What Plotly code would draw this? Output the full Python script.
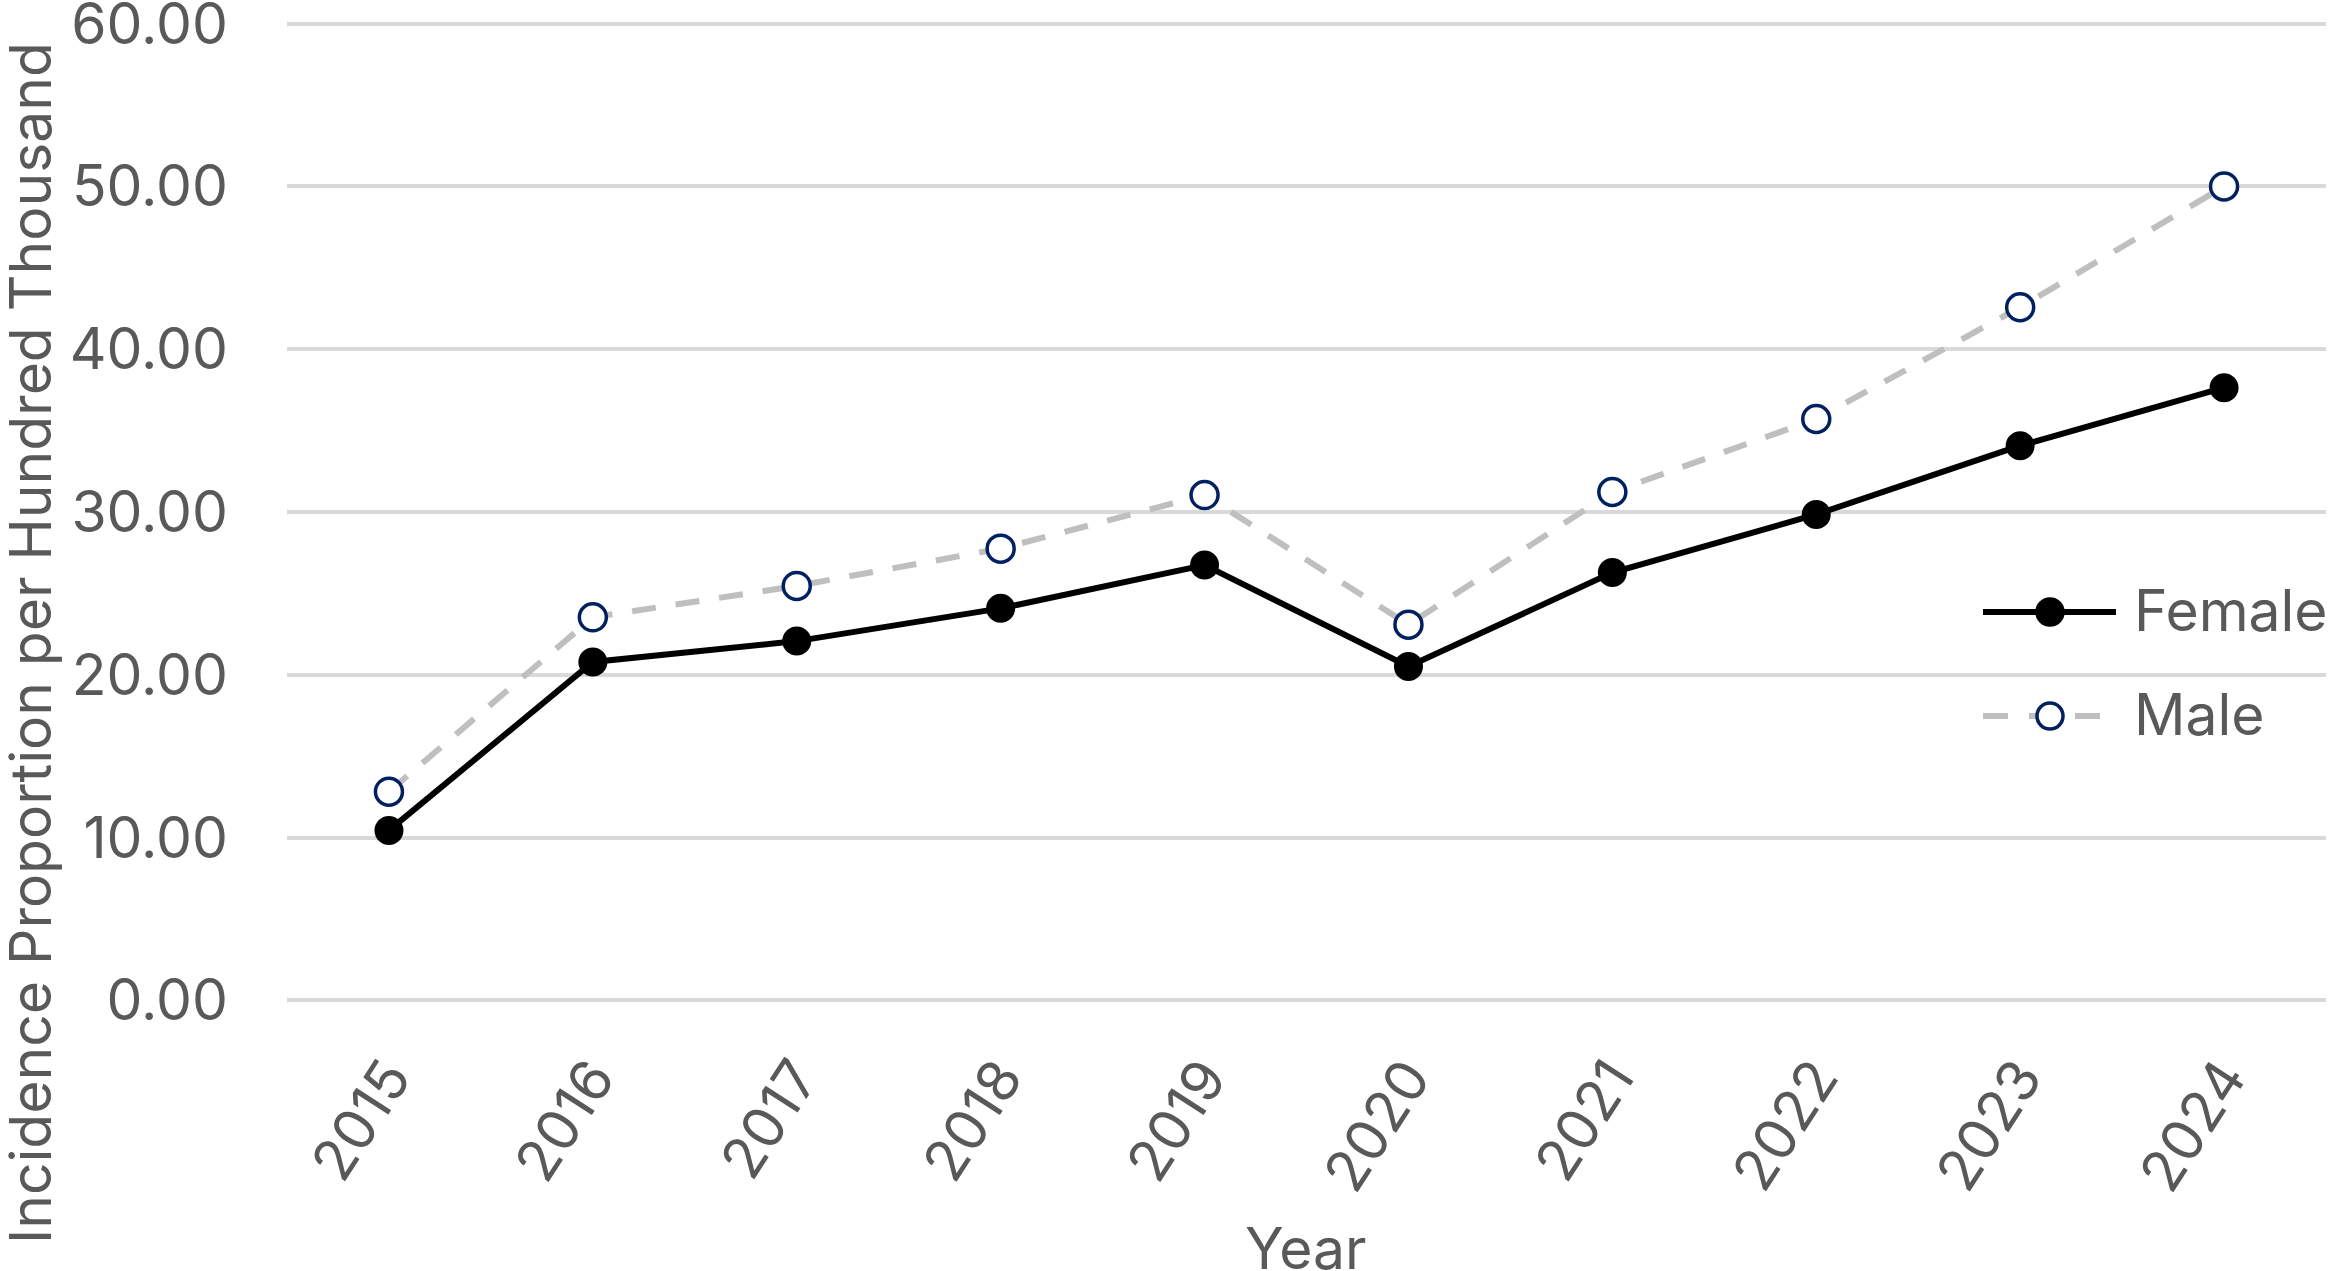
import plotly.graph_objects as go

years = ["2015", "2016", "2017", "2018", "2019", "2020", "2021", "2022", "2023", "2024"]
female = [10.44, 20.79, 22.07, 24.08, 26.74, 20.51, 26.28, 29.85, 34.07, 37.64]
male = [12.82, 23.53, 25.46, 27.75, 31.04, 23.08, 31.23, 35.71, 42.58, 50.00]
y_ticks = [0, 10, 20, 30, 40, 50, 60]
y_tick_labels = ["0.00", "10.00", "20.00", "30.00", "40.00", "50.00", "60.00"]
series_names = ["Female", "Male"]

FONT = "Inter"
TEXT = "#595959"
FS = 57

W, H = 2333, 1271
ML, MR, MT, MB = 287, 7, 22, 269
PW, PH = W - ML - MR, H - MT - MB


def px_x(p):
    return (p - ML) / PW


def px_y(p):
    return (H - MB - p) / PH


fig = go.Figure()
fig.add_trace(go.Scatter(
    x=years, y=female, name=series_names[0], mode="lines+markers",
    line=dict(color="black", width=6),
    marker=dict(symbol="circle", size=29, color="black"),
))
fig.add_trace(go.Scatter(
    x=years, y=male, name=series_names[1], mode="lines+markers",
    line=dict(color="#bfbfbf", width=6, dash="24px,20px"),
    marker=dict(symbol="circle", size=27, color="white",
                line=dict(color="#002060", width=3.5)),
))

# custom legend (keys with long line samples, as in the reference)
shapes = []
annotations = []
legend_rows = [
    (series_names[0], 612, dict(color="black", width=6), "black", "black"),
    (series_names[1], 716, dict(color="#bfbfbf", width=6, dash="25px,21px"), "white", "#002060"),
]
for name, yc, ln, fill, edge in legend_rows:
    shapes.append(dict(type="line", xref="paper", yref="paper",
                       x0=px_x(1983), x1=px_x(2116), y0=px_y(yc), y1=px_y(yc), line=ln))
    shapes.append(dict(type="circle", xref="paper", yref="paper",
                       x0=px_x(2050 - 13), x1=px_x(2050 + 13),
                       y0=px_y(yc + 13), y1=px_y(yc - 13),
                       fillcolor=fill, line=dict(color=edge, width=3.5)))
    annotations.append(dict(text=name, xref="paper", yref="paper",
                            x=px_x(2132), y=px_y(yc - 2), xanchor="left", yanchor="middle",
                            showarrow=False, font=dict(size=FS, color=TEXT, family=FONT)))

annotations.append(dict(text="Incidence Proportion per Hundred Thousand",
                        xref="paper", yref="paper", x=px_x(31), y=px_y(643),
                        xanchor="center", yanchor="middle", textangle=-90, showarrow=False,
                        font=dict(size=FS, color=TEXT, family=FONT)))
annotations.append(dict(text="Year", xref="paper", yref="paper",
                        x=px_x(1306), y=px_y(1248), xanchor="center", yanchor="middle",
                        showarrow=False, font=dict(size=FS, color=TEXT, family=FONT)))

fig.update_layout(
    width=W, height=H,
    margin=dict(l=ML, r=MR, t=MT, b=MB),
    paper_bgcolor="white", plot_bgcolor="white",
    font=dict(family=FONT, size=FS, color=TEXT),
    showlegend=False,
    shapes=shapes,
    annotations=annotations,
    xaxis=dict(
        type="category", range=[-0.5, 9.5], tickangle=-57, automargin=False,
        showgrid=False, zeroline=False, showline=False, ticks="",
        ticklabelstandoff=30,
        tickfont=dict(size=FS, color=TEXT, family=FONT),
    ),
    yaxis=dict(
        range=[-0.1, 60.1], tickvals=y_ticks, ticktext=y_tick_labels, automargin=False,
        showgrid=True, gridcolor="#d9d9d9", gridwidth=3.5,
        zeroline=False, showline=False, ticks="",
        ticklabelstandoff=58, ticklabeloverflow="allow",
        tickfont=dict(size=FS, color=TEXT, family=FONT),
    ),
)

fig.write_html("out.html")
